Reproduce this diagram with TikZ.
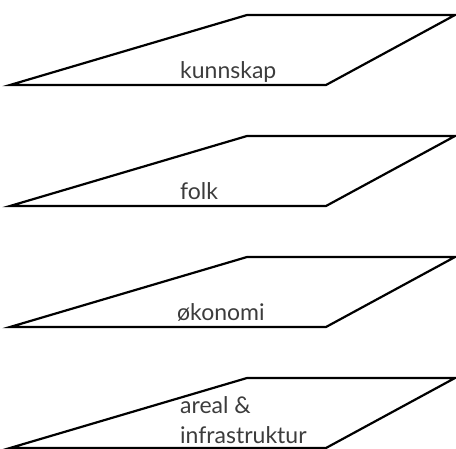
\documentclass[tikz,border=0pt]{standalone}
\usepackage{fontspec}
\setmainfont{Lato}
\definecolor{txtgray}{HTML}{3C3C3C}
\begin{document}
\begin{tikzpicture}[x=1pt,y=-1pt,
  layer/.style={draw=black,line width=2.2pt,line join=miter},
  lbl/.style={anchor=base west,inner sep=0pt,text=txtgray,font=\fontsize{23}{30}\selectfont}]
\useasboundingbox (0,0) rectangle (456,448);
\foreach \i/\t in {0/15,1/136,2/257,3/378}{
  \draw[layer] (10,\t+70) -- (247,\t) -- (455,\t) -- (326,\t+70) -- cycle;
}
\node[lbl] (k) at (180,78) {kunnskap};
\node[lbl] (f) at (180,199) {folk};
\node[lbl] (o) at (177,320) {økonomi};
\node[lbl] (a) at (180,413) {areal \&};
\node[lbl] (i) at (180,443) {infrastruktur};
\end{tikzpicture}
\end{document}
